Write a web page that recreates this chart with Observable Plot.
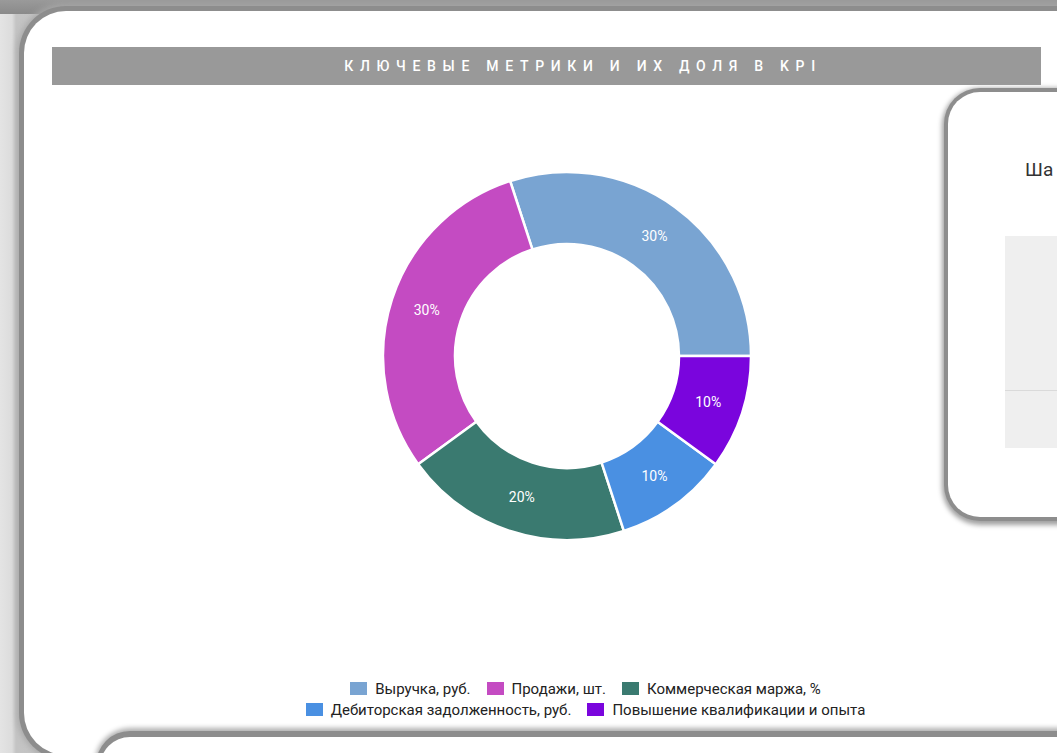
<!DOCTYPE html>
<html>
<head>
<meta charset="utf-8">
<script src="https://cdn.jsdelivr.net/npm/d3@7"></script>
<script src="https://cdn.jsdelivr.net/npm/@observablehq/plot@0.6"></script>
<style>
  html, body { margin: 0; padding: 0; }
  body { width: 1057px; height: 753px; overflow: hidden; position: relative;
         background: linear-gradient(90deg, #e4e4e4 0px, #dcdcdc 12px, #c4c4c4 16px, #e8e8e8 100%);
         font-family: Roboto, "Noto Sans", sans-serif; }
  .topband { position: absolute; left: 0; top: 0; width: 1057px; height: 14px; background: linear-gradient(180deg, #9a9a9a, #8a8a8a); }
  .card { position: absolute; left: 24px; top: 11px; width: 1100px; height: 744px; background: #fff;
          border-radius: 42px; box-shadow: 0 0 0 5px #8d8d8d, 0 0 6px 7px #a8a8a8; }
  .titlebar { position: absolute; left: 52px; top: 47px; width: 989px; height: 38px; background: #999; }
  .titlebar span { position: absolute; left: 0; top: 0; width: 1062px; text-align: center; line-height: 38px;
              color: #fff; font-family: Roboto, sans-serif; font-weight: 500;
              font-size: 14px; letter-spacing: 6.7px; white-space: nowrap; }
  .rcard { position: absolute; left: 948px; top: 92px; width: 200px; height: 425px; background: #fff;
           border-radius: 32px; box-shadow: 0 0 0 4px #8d8d8d, 0 2px 5px 6px #a0a0a0; }
  .rcard .ttl { position: absolute; left: 77px; top: 66px; font-size: 19px; color: #333; }
  .rcard .box { position: absolute; left: 57px; top: 144px; width: 200px; height: 212px; background: #efefef; }
  .rcard .line { position: absolute; left: 57px; top: 298px; width: 200px; height: 1px; background: #dadada; }
  .bcard { position: absolute; left: 100px; top: 737px; width: 1000px; height: 60px; background: #fff;
           border-radius: 34px; box-shadow: 0 -2px 0 4px #8d8d8d, 0 -4px 5px 5px #b0b0b0; }
  #chart { position: absolute; left: 367px; top: 156px; }
  .legend { position: absolute; left: 91px; width: 989px; top: 679px; text-align: center; font-size: 15px; color: #222; }
  .legend .row { height: 21px; line-height: 21px; }
  .legend .item { display: inline-block; margin: 0 8px; white-space: nowrap; }
  .legend .sw { display: inline-block; width: 17px; height: 13px; margin-right: 8px; vertical-align: -1px; }
</style>
</head>
<body>
<div class="topband"></div>
<div class="card"></div>
<div class="titlebar"><span id="title"></span></div>
<div class="rcard"><div class="ttl">Ша</div><div class="box"></div><div class="line"></div></div>
<div id="chart"></div>
<div class="legend" id="legend"></div>
<div class="bcard"></div>
<script>
const titleText = "КЛЮЧЕВЫЕ МЕТРИКИ И ИХ ДОЛЯ В KPI";
const categories = ["Выручка, руб.", "Продажи, шт.", "Коммерческая маржа, %", "Дебиторская задолженность, руб.", "Повышение квалификации и опыта"];
const shares = [30, 30, 20, 10, 10];
const colors = ["#79a4d2", "#c44bc2", "#3a7a70", "#4a90e2", "#7a05dd"];
const legendRows = [[0, 1, 2], [3, 4]];

document.getElementById("title").textContent = titleText;

const table = categories.map((c, i) => ({category: c, share: shares[i], color: colors[i]}));
const total = d3.sum(table, d => d.share);
const pie = d3.pie().sort(null).value(d => d.share).startAngle(Math.PI / 2).endAngle(Math.PI / 2 - 2 * Math.PI);
const arcs = pie(table);

const R = 184, r0 = 112;
const arcGen = d3.arc().innerRadius(r0).outerRadius(R);
const labels = arcs.map(a => {
  const [cx, cy] = arcGen.centroid(a);
  return {x: cx, y: -cy, text: Math.round(a.data.share / total * 100) + "%"};
});

function donut(index, scales, values, dimensions, context) {
  const x0 = scales.x(0), y0 = scales.y(0);
  const k = Math.abs(scales.x(1) - scales.x(0));
  const g = d3.create("svg:g").attr("transform", `translate(${x0},${y0})`);
  const gen = d3.arc().innerRadius(r0 * k).outerRadius(R * k);
  g.selectAll("path").data(arcs).join("path")
    .attr("d", gen)
    .attr("fill", d => d.data.color)
    .attr("stroke", "#fff")
    .attr("stroke-width", 2.5)
    .attr("stroke-linejoin", "miter");
  return g.node();
}

const chart = Plot.plot({
  width: 400, height: 400,
  margin: 0,
  x: {domain: [-200, 200], axis: null},
  y: {domain: [-200, 200], axis: null},
  style: {background: "transparent", fontFamily: "Roboto, sans-serif"},
  marks: [
    donut,
    Plot.text(labels, {x: "x", y: "y", text: "text", fill: "#fff", fontSize: 14})
  ]
});
document.getElementById("chart").appendChild(chart);

const legend = document.getElementById("legend");
legendRows.forEach(row => {
  const div = document.createElement("div");
  div.className = "row";
  row.forEach(i => {
    const it = document.createElement("span");
    it.className = "item";
    it.innerHTML = `<span class="sw" style="background:${colors[i]}"></span>`;
    it.appendChild(document.createTextNode(categories[i]));
    div.appendChild(it);
  });
  legend.appendChild(div);
});
</script>
</body>
</html>
